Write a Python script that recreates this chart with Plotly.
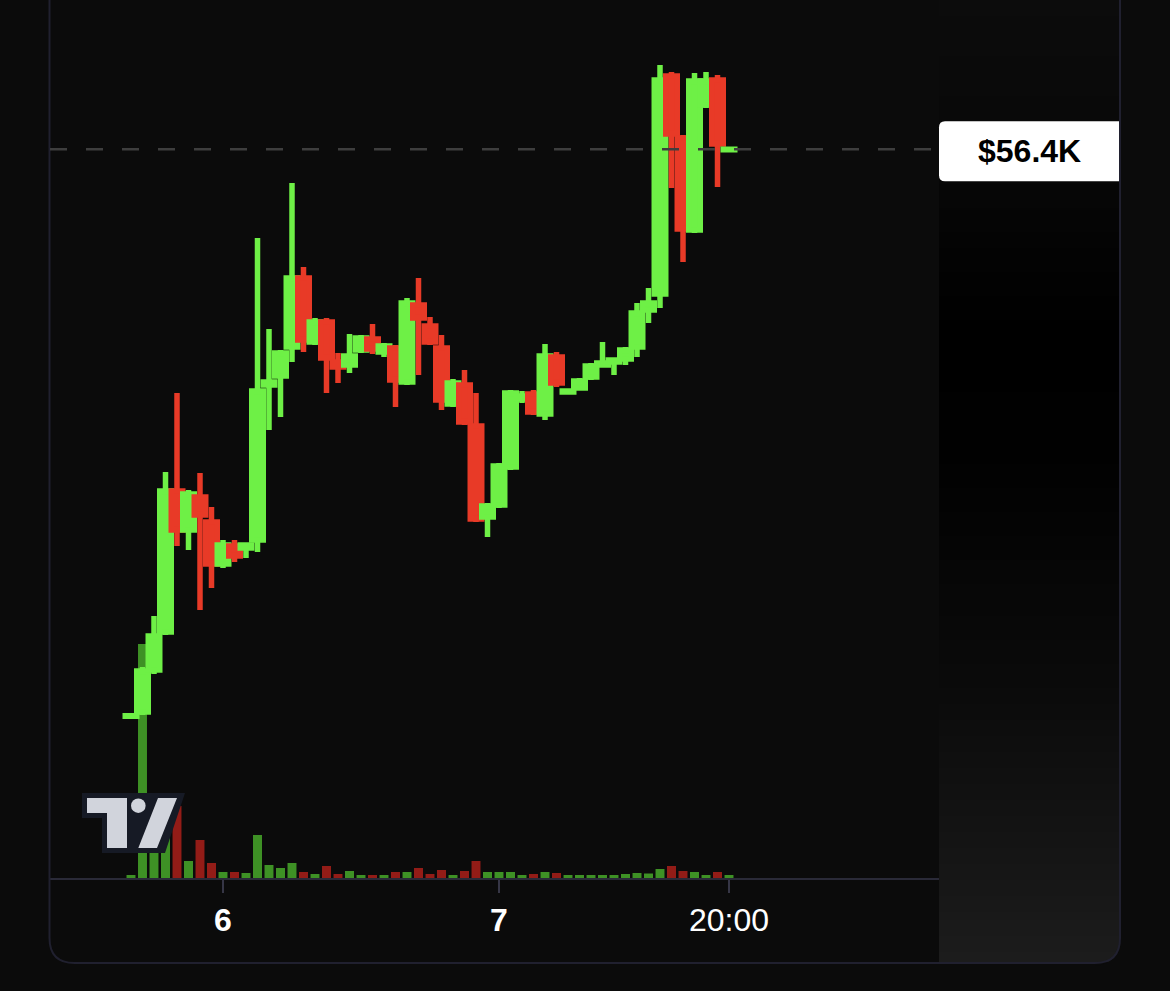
import plotly.graph_objects as go
import pandas as pd

# ---------------- data (price in $K, hourly candles) ----------------
times = pd.date_range("2024-03-05 16:00", periods=53, freq="h")

opens = [13.88, 14.20, 17.35, 20.20, 30.78, 27.85, 30.33, 28.45, 25.30, 26.65,
         26.50, 27.10, 38.73, 39.40, 41.58, 46.75, 41.95, 43.45, 40.45, 40.23,
         41.35, 42.18, 41.20, 41.50, 38.95, 44.73, 43.15, 41.50, 37.30, 38.73,
         35.65, 28.83, 29.73, 32.58, 37.68, 38.05, 36.55, 40.83, 38.20, 38.50,
         39.33, 40.23, 40.45, 40.68, 41.58, 44.35, 45.55, 61.90, 57.25, 50.35,
         59.73, 61.60, 56.36]
closes = [13.92, 17.28, 19.90, 30.78, 27.85, 30.55, 28.98, 25.30, 26.73, 25.90,
          26.73, 38.28, 38.95, 41.13, 46.75, 42.10, 43.45, 40.75, 40.08, 40.90,
          42.25, 41.43, 41.65, 39.10, 44.88, 43.75, 41.95, 37.60, 38.88, 35.95,
          28.68, 29.65, 32.65, 38.13, 37.90, 36.70, 40.90, 38.88, 38.28, 39.03,
          40.15, 40.38, 40.60, 41.35, 44.13, 44.88, 61.60, 57.55, 50.43, 61.53,
          61.53, 56.80, 56.40]
highs = [13.92, 17.58, 21.40, 32.20, 38.13, 30.85, 32.13, 29.58, 27.10, 27.10,
         26.88, 49.75, 42.93, 41.35, 53.88, 47.58, 43.75, 43.75, 41.13, 42.55,
         42.48, 43.30, 41.88, 41.73, 45.25, 46.75, 43.83, 42.48, 39.18, 39.85,
         38.13, 29.88, 32.88, 38.35, 38.28, 38.35, 41.80, 41.20, 38.28, 39.25,
         40.38, 41.95, 40.75, 41.58, 44.88, 46.00, 62.73, 62.20, 57.48, 62.13,
         62.20, 61.98, 56.40]
lows = [13.88, 13.98, 17.05, 19.98, 26.65, 26.35, 21.85, 23.50, 25.00, 25.45,
        25.75, 26.20, 35.35, 36.33, 40.45, 41.20, 41.73, 38.13, 38.88, 39.63,
        41.13, 41.05, 40.83, 37.08, 38.73, 39.48, 41.73, 36.85, 37.08, 35.73,
        28.45, 27.33, 29.50, 32.35, 37.38, 36.48, 36.10, 38.58, 38.20, 38.35,
        39.10, 40.08, 39.48, 40.23, 40.83, 43.38, 44.50, 53.50, 47.95, 50.13,
        59.50, 53.58, 56.36]
volumes = [0.3, 23.4, 7.0, 7.0, 7.2, 1.7, 3.8, 1.5, 0.6, 0.6,
           0.5, 4.3, 1.3, 1.0, 1.5, 0.6, 0.4, 1.2, 0.4, 0.7,
           0.3, 0.3, 0.3, 0.6, 0.6, 1.0, 0.4, 0.8, 0.3, 0.7,
           1.7, 0.6, 0.6, 0.6, 0.3, 0.4, 0.6, 0.5, 0.3, 0.3,
           0.3, 0.3, 0.3, 0.4, 0.5, 0.45, 0.9, 1.2, 0.7, 0.6,
           0.3, 0.6, 0.3]

tick_vals = ["2024-03-06 00:00", "2024-03-07 00:00", "2024-03-07 20:00"]
tick_text = ["<b>6</b>", "<b>7</b>", "20:00"]

# ---------------- style ----------------
BG = "#0b0b0b"
UP = "#6ef046"
DOWN = "#e83a27"
VOL_UP = "#3e9125"
VOL_DOWN = "#931c17"
FONT = "Liberation Sans, Arial, Helvetica, sans-serif"

W, H = 1170, 991
ML, MR, MT, MB = 50, 231, 0, 113
PW, PH = W - ML - MR, H - MT - MB  # 889 x 878

vol_colors = [VOL_UP if c >= o else VOL_DOWN for o, c in zip(opens, closes)]

fig = go.Figure()
fig.add_trace(go.Bar(
    x=times, y=volumes, marker=dict(color=vol_colors, line=dict(width=0)),
    yaxis="y", hoverinfo="skip", showlegend=False,
))
fig.add_trace(go.Candlestick(
    x=times, open=opens, high=highs, low=lows, close=closes,
    yaxis="y2", showlegend=False,
    increasing=dict(line=dict(color=UP, width=5.5), fillcolor=UP),
    decreasing=dict(line=dict(color=DOWN, width=5.5), fillcolor=DOWN),
    whiskerwidth=0,
))

last = closes[-1]


# helpers: screen-pixel -> shape pixel offsets anchored at plot bottom-left
def X(px):
    return px - ML


def Y(py):
    return (MT + PH) - py


def poly(points):
    s = "M %.1f,%.1f " % (X(points[0][0]), Y(points[0][1]))
    for p in points[1:]:
        s += "L %.1f,%.1f " % (X(p[0]), Y(p[1]))
    return s + "Z"


shapes = []

# price-scale gradient panel
def shade(py):
    stops = [(0, 12), (150, 8), (330, 0), (450, 1), (700, 11), (962, 28)]
    for (y0, c0), (y1, c1) in zip(stops[:-1], stops[1:]):
        if y0 <= py <= y1:
            return int(round(c0 + (c1 - c0) * (py - y0) / (y1 - y0)))
    return stops[-1][1]


step = 8
for py in range(0, 962, step):
    g = shade(py + step / 2)
    shapes.append(dict(
        type="rect", xref="paper", yref="paper", layer="below",
        x0=1.0, x1=(1120 - ML) / PW,
        y0=(MT + PH - min(py + step, 962)) / PH, y1=(MT + PH - py) / PH,
        fillcolor="rgb(%d,%d,%d)" % (g, g, g), line=dict(width=0),
    ))

pix = dict(xref="paper", yref="paper", xsizemode="pixel", ysizemode="pixel",
           xanchor=0, yanchor=0)

# mask for rounded bottom-right corner
shapes.append(dict(
    type="path", layer="below", **pix,
    path="M %.1f,%.1f L %.1f,%.1f L %.1f,%.1f Q %.1f,%.1f %.1f,%.1f Z" % (
        X(1122), Y(938), X(1122), Y(966), X(1095), Y(966),
        X(1120), Y(963), X(1120), Y(938)),
    fillcolor=BG, line=dict(width=0),
))

# outer rounded frame
shapes.append(dict(
    type="path", layer="above", **pix,
    path="M %.1f,%.1f L %.1f,%.1f Q %.1f,%.1f %.1f,%.1f L %.1f,%.1f Q %.1f,%.1f %.1f,%.1f L %.1f,%.1f" % (
        X(49.5), Y(-5), X(49.5), Y(938), X(49.5), Y(963), X(74.5), Y(963),
        X(1095), Y(963), X(1120), Y(963), X(1120), Y(938), X(1120), Y(-5)),
    line=dict(color="#20202f", width=2),
))

# last price dashed line
shapes.append(dict(
    type="line", layer="above", xref="paper", x0=0, x1=1, yref="y2", y0=last, y1=last,
    line=dict(color="#3e3e3e", width=2.5, dash="17px,19px"),
))

# last price label box
shapes.append(dict(
    type="path", layer="above", xref="paper", xsizemode="pixel", xanchor=1.0,
    yref="y2", ysizemode="pixel", yanchor=last,
    path="M 6,-32 L 180,-32 L 180,28 L 6,28 Q 0,28 0,22 L 0,-26 Q 0,-32 6,-32 Z",
    fillcolor="#ffffff", line=dict(width=0),
))

# TradingView logo
LOGO_DARK = "#161a25"
LOGO_LIGHT = "#d1d4dc"
shapes.append(dict(type="path", layer="above", **pix,
                   path=poly([(82, 793), (185, 793), (165, 853), (102, 853), (102, 818), (82, 818)]),
                   fillcolor=LOGO_DARK, line=dict(width=0)))
shapes.append(dict(type="path", layer="above", **pix,
                   path=poly([(87, 798), (127, 798), (127, 848), (107, 848), (107, 813), (87, 813)]),
                   fillcolor=LOGO_LIGHT, line=dict(width=0)))
shapes.append(dict(type="circle", layer="above", **pix,
                   x0=X(131), x1=X(145.6), y0=Y(813), y1=Y(798.4),
                   fillcolor=LOGO_LIGHT, line=dict(width=0)))
shapes.append(dict(type="path", layer="above", **pix,
                   path=poly([(138.3, 848), (157, 848), (177, 798), (158, 798)]),
                   fillcolor=LOGO_LIGHT, line=dict(width=0)))

annotations = [dict(
    xref="paper", x=(1029 - ML) / PW, xanchor="center",
    yref="y2", y=last, yanchor="middle", yshift=-2,
    text="<b>$%.1fK</b>" % last, showarrow=False,
    font=dict(family=FONT, size=32, color="#000000"),
)]

fig.update_layout(
    width=W, height=H,
    margin=dict(l=ML, r=MR, t=MT, b=MB, pad=0),
    paper_bgcolor=BG, plot_bgcolor=BG,
    showlegend=False, hovermode=False,
    bargap=0.22, boxgap=0, boxgroupgap=0,
    shapes=shapes, annotations=annotations,
    font=dict(family=FONT, color="#ffffff"),
    xaxis=dict(
        type="date",
        range=["2024-03-05 08:57:25", "2024-03-08 14:15:36"],
        rangeslider=dict(visible=False),
        showgrid=False, zeroline=False,
        showline=True, linecolor="#2a2a38", linewidth=2,
        ticks="outside", ticklen=13, tickwidth=2, tickcolor="#363646",
        tickmode="array", tickvals=tick_vals, ticktext=tick_text,
        tickfont=dict(family=FONT, size=32, color="#ffffff"),
        fixedrange=True,
    ),
    yaxis=dict(range=[0, 87.8], visible=False, showgrid=False, zeroline=False,
               fixedrange=True),
    yaxis2=dict(range=[1.75, 67.6], overlaying="y", visible=False,
                showgrid=False, zeroline=False, fixedrange=True),
)

fig.write_html("out.html")
